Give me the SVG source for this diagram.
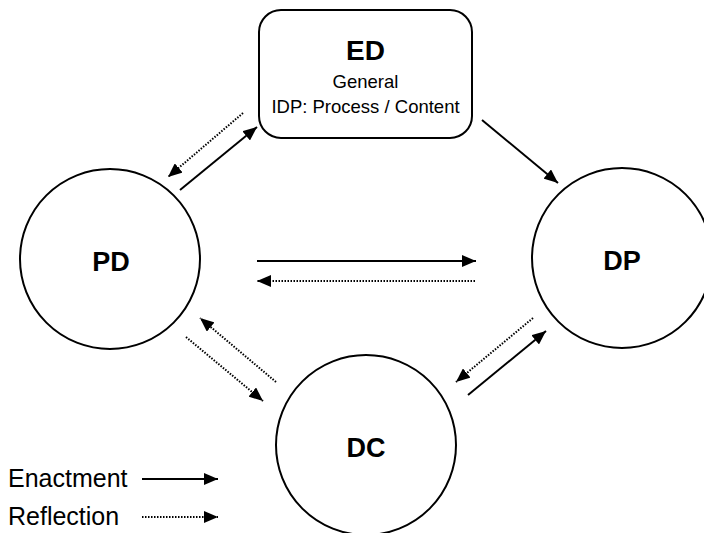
<svg xmlns="http://www.w3.org/2000/svg" width="704" height="533" viewBox="0 0 704 533">
<style>
.node{fill:#fff;stroke:#000;stroke-width:2}
.lbl{font-family:"Liberation Sans",Arial,sans-serif;font-weight:bold;font-size:27px;text-anchor:middle}
.sub{font-family:"Liberation Sans",Arial,sans-serif;font-size:18.5px;text-anchor:middle}
.leg{font-family:"Liberation Sans",Arial,sans-serif;font-size:25px}
.solid{stroke:#000;stroke-width:2;fill:none;marker-end:url(#ah)}
.dot{stroke:#000;stroke-width:2;stroke-dasharray:1.5 1.5;fill:none;marker-end:url(#ah)}
</style>
<defs>
<marker id="ah" markerUnits="userSpaceOnUse" markerWidth="14" markerHeight="12" refX="14" refY="6" orient="auto">
<path d="M0,0 L14,6 L0,12 Z" fill="#000"/>
</marker>
</defs>
<rect width="704" height="533" fill="#fff"/>
<g id="ED">
<rect class="node" x="259" y="10" width="213" height="128" rx="22"/>
<text class="lbl" x="365.5" y="60" style="font-size:28px">ED</text>
<text class="sub" x="365.5" y="88">General</text>
<text class="sub" x="365.5" y="113">IDP: Process / Content</text>
</g>
<g id="PD">
<circle class="node" cx="110" cy="259" r="90"/>
<text class="lbl" x="111" y="271">PD</text>
</g>
<g id="DP">
<circle class="node" cx="622" cy="258" r="90"/>
<text class="lbl" x="622" y="270">DP</text>
</g>
<g id="DC">
<circle class="node" cx="366" cy="445" r="90"/>
<text class="lbl" x="366" y="457">DC</text>
</g>
<g id="connectors">
<line class="solid" x1="180" y1="190" x2="257" y2="127"/>
<line class="dot" x1="243" y1="113" x2="168" y2="177"/>
<line class="solid" x1="482" y1="120" x2="558" y2="183"/>
<line class="solid" x1="257" y1="261" x2="476" y2="261"/>
<line class="dot" x1="475" y1="281" x2="257" y2="281"/>
<line class="dot" x1="276" y1="382" x2="200" y2="318"/>
<line class="dot" x1="186" y1="337" x2="263" y2="401"/>
<line class="dot" x1="533" y1="318" x2="456" y2="382"/>
<line class="solid" x1="468" y1="395" x2="546" y2="331"/>
</g>
<g id="legend">
<text class="leg" x="8" y="487">Enactment</text>
<text class="leg" x="8" y="525">Reflection</text>
<line class="solid" x1="142" y1="479" x2="218" y2="479"/>
<line class="dot" x1="142" y1="517" x2="218" y2="517"/>
</g>
</svg>
